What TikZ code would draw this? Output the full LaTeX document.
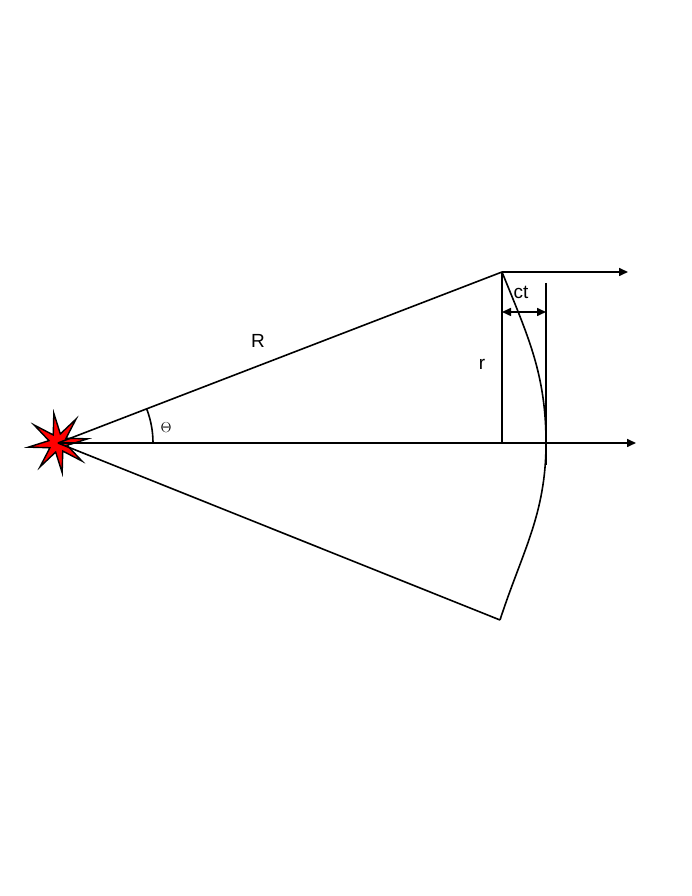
\documentclass[tikz,border=0pt]{standalone}
\usepackage{fontspec}
\setmainfont{Liberation Sans}
\usetikzlibrary{shapes.geometric, arrows.meta}
\tikzset{
  font={\fontsize{19pt}{22}\selectfont}}

\begin{document}
\begin{tikzpicture}[x=1pt, y=1pt, line width=1.6pt, >={Triangle[length=9pt,width=8pt]}]
  \useasboundingbox (0,0) rectangle (692,896);
  % source and rays
  \node (src) [star, star points=8, star point ratio=3.2, minimum size=60pt, draw, fill=red, line width=1.4pt, inner sep=0pt, rotate=8] at (58,453) {};
  \coordinate (o) at (58,453);
  \coordinate (top) at (502,624);
  \coordinate (bot) at (500,276);
  \coordinate (mid) at (546,453);
  \coordinate (foot) at (502,453);
  \draw (o) -- (top);
  \draw (o) -- (bot);
  \draw[->] (o) -- (636,453);
  \draw[->] (top) -- (628,624);
  % wavefront
  \draw (top) to[out=-68, in=90] (mid) to[out=-90, in=72] (bot);
  \draw (foot) -- (top);
  \draw (546,613) -- (546,431);
  \draw[<->] (502,584) -- (546,584);
  % angle
  \draw (153,453) arc[start angle=0, end angle=21, radius=95];
  \node (th) at (166,468) {\fontsize{15pt}{18}\selectfont$\Theta$};
  \node (lR) at (258,555) {R};
  \node (lr) at (482,532) {r};
  \node (lct) at (521,604) {ct};
\end{tikzpicture}
\end{document}
